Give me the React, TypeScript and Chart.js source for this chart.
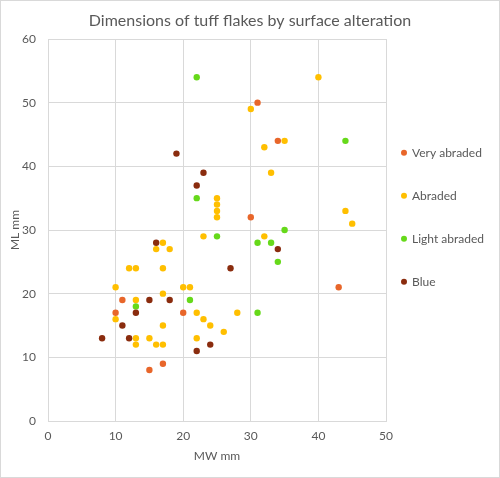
import React, { useEffect, useRef } from "react";
import { Chart, registerables, layouts } from "chart.js";

Chart.register(...registerables);

const seriesNames = ["Very abraded", "Abraded", "Light abraded", "Blue"];
const seriesColors = ["#E8662A", "#FFBF00", "#66D91A", "#8A2C0E"];

const veryAbradedX = [31, 34, 30, 43, 20, 11, 10, 17, 15];
const veryAbradedY = [50, 44, 32, 21, 17, 19, 17, 9, 8];

const abradedX = [40, 30, 35, 32, 33, 25, 25, 25, 25, 44, 45, 23, 32, 17, 16, 18, 12, 13, 17, 10, 20, 21, 17, 13, 22, 28, 10, 23, 17, 24, 26, 13, 15, 22, 13, 16, 17];
const abradedY = [54, 49, 44, 43, 39, 35, 34, 33, 32, 33, 31, 29, 29, 28, 27, 27, 24, 24, 24, 21, 21, 21, 20, 19, 17, 17, 16, 16, 15, 15, 14, 13, 13, 13, 12, 12, 12];

const lightAbradedX = [22, 44, 22, 35, 25, 31, 33, 34, 21, 13, 31];
const lightAbradedY = [54, 44, 35, 30, 29, 28, 28, 25, 19, 18, 17];

const blueX = [19, 23, 22, 16, 34, 27, 15, 18, 13, 11, 8, 12, 24, 22];
const blueY = [42, 39, 37, 28, 27, 24, 19, 19, 17, 15, 13, 13, 12, 11];

const xTicks = [0, 10, 20, 30, 40, 50];
const yTicks = [0, 10, 20, 30, 40, 50, 60];

const FONT = "Lato, 'Open Sans', sans-serif";
const TEXT = "#595959";
const GRID = "#D9D9D9";

function pts(xs: number[], ys: number[]) {
  return xs.map((x, i) => ({ x, y: ys[i] }));
}

// A right-hand layout box that holds the legend, so the title stays centred on the whole canvas.
const sideLegendPlugin = {
  id: "sideLegend",
  beforeInit(chart: any) {
    const box: any = {
      position: "right",
      fullSize: false,
      weight: 1000,
      options: {},
      width: 0,
      height: 0,
      left: 0,
      top: 0,
      right: 0,
      bottom: 0,
      update(maxWidth: number, maxHeight: number) {
        box.width = 114;
        box.height = maxHeight;
      },
      isHorizontal() {
        return false;
      },
      draw() {
        const ctx = chart.ctx;
        ctx.save();
        const x0 = box.left + 18;
        const y0 = 152.7;
        const step = 43;
        chart.data.datasets.forEach((ds: any, i: number) => {
          const y = y0 + i * step;
          ctx.beginPath();
          ctx.fillStyle = ds.backgroundColor;
          ctx.arc(x0, y, 3, 0, Math.PI * 2);
          ctx.fill();
          ctx.fillStyle = TEXT;
          ctx.font = `12px ${FONT}`;
          ctx.textAlign = "left";
          ctx.textBaseline = "middle";
          ctx.fillText(ds.label, x0 + 8, y);
        });
        ctx.restore();
      },
    };
    layouts.addBox(chart, box);
  },
  afterDraw(chart: any) {
    const ctx = chart.ctx;
    ctx.save();
    ctx.strokeStyle = GRID;
    ctx.lineWidth = 1;
    ctx.strokeRect(0.5, 0.5, chart.width - 1, chart.height - 1);
    ctx.restore();
  },
};

export default function App() {
  const ref = useRef<HTMLCanvasElement | null>(null);
  useEffect(() => {
    if (!ref.current) return;
    const data = [
      pts(veryAbradedX, veryAbradedY),
      pts(abradedX, abradedY),
      pts(lightAbradedX, lightAbradedY),
      pts(blueX, blueY),
    ];
    const chart = new Chart(ref.current, {
      type: "scatter",
      data: {
        datasets: data.map((d, i) => ({
          label: seriesNames[i],
          data: d,
          backgroundColor: seriesColors[i],
          borderColor: seriesColors[i],
          borderWidth: 0,
          pointRadius: 3.2,
          pointHoverRadius: 3.2,
          order: 4 - i,
        })),
      },
      options: {
        animation: false,
        responsive: true,
        maintainAspectRatio: false,
        layout: { padding: 0 },
        plugins: {
          legend: { display: false },
          tooltip: { enabled: false },
          title: {
            display: true,
            text: "Dimensions of tuff flakes by surface alteration",
            color: TEXT,
            font: { family: FONT, size: 16, weight: "normal" },
            padding: { top: 11, bottom: 8.8 },
          },
        },
        scales: {
          x: {
            type: "linear",
            min: 0,
            max: 50,
            afterFit: (s: any) => { s.height = 57; },
            afterBuildTicks: (s: any) => { s.ticks = xTicks.map((v) => ({ value: v })); },
            ticks: { color: TEXT, font: { family: FONT, size: 12 }, padding: 8 },
            grid: { color: GRID, drawTicks: false },
            border: { color: GRID },
            title: {
              display: true,
              text: "MW mm",
              color: TEXT,
              font: { family: FONT, size: 12 },
              padding: { top: 0, bottom: 15 },
            },
          },
          y: {
            type: "linear",
            min: 0,
            max: 60,
            afterFit: (s: any) => { s.width = 48; },
            afterBuildTicks: (s: any) => { s.ticks = yTicks.map((v) => ({ value: v })); },
            ticks: { color: TEXT, font: { family: FONT, size: 12 }, padding: 12 },
            grid: { color: GRID, drawTicks: false },
            border: { color: GRID },
            title: {
              display: true,
              text: "ML mm",
              color: TEXT,
              font: { family: FONT, size: 12 },
              padding: { top: 8, bottom: 0 },
            },
          },
        },
      },
      plugins: [sideLegendPlugin],
    });
    return () => chart.destroy();
  }, []);
  return (
    <div style={{ position: "fixed", left: 0, top: 0, width: 500, height: 478, background: "#fff" }}>
      <canvas ref={ref} />
    </div>
  );
}
